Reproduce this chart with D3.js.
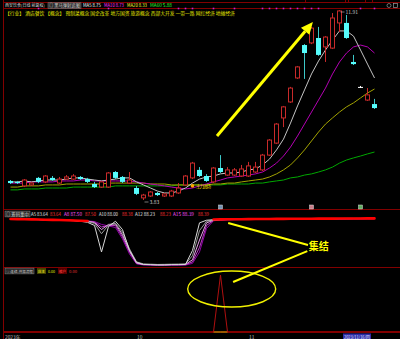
<!DOCTYPE html>
<html>
<head>
<meta charset="utf-8">
<script src="https://cdn.jsdelivr.net/npm/d3@7"></script>
<style>
  html, body { margin: 0; padding: 0; background: #000; }
  svg { display: block; font-family: "Noto Sans CJK SC", "Noto Sans", sans-serif; }
</style>
</head>
<body>
<div id="chart"></div>
<script>
// daily bars, 53 sessions
var opens  = [4.64,4.60,4.43,4.47,4.77,4.60,4.77,4.55,4.72,4.72,4.81,4.72,4.51,4.38,4.38,5.02,4.81,4.55,4.34,3.92,4.00,4.13,4.00,4.00,4.13,4.47,4.77,5.11,4.85,4.60,5.19,4.89,4.89,4.85,4.85,5.02,5.11,5.74,6.25,7.32,8.00,9.02,10.42,10.51,10.72,10.34,10.29,11.36,11.36,9.70,8.64,8.08,7.91];
var highs  = [4.68,4.64,4.72,4.60,4.81,4.89,4.85,4.81,4.89,4.93,4.85,4.77,4.60,4.64,5.02,5.06,4.85,5.02,4.43,4.09,4.21,4.17,4.13,4.26,4.55,4.89,5.45,5.23,4.93,5.23,5.74,5.23,5.19,5.32,5.45,5.45,5.79,6.42,7.10,7.83,8.64,9.53,10.46,11.19,11.19,10.80,11.78,11.91,11.70,10.00,8.68,8.59,8.13];
var lows   = [4.51,4.51,4.38,4.43,4.55,4.55,4.64,4.51,4.68,4.68,4.68,4.55,4.34,4.34,4.34,4.72,4.55,4.51,4.04,3.83,3.96,4.00,3.96,3.96,4.09,4.43,4.72,4.81,4.60,4.55,4.98,4.85,4.85,4.81,4.81,4.98,5.06,5.70,6.21,6.93,7.96,8.98,8.98,10.46,9.96,9.70,10.25,10.97,10.68,9.57,8.60,8.04,7.70];
var closes = [4.55,4.55,4.68,4.55,4.60,4.85,4.68,4.72,4.81,4.85,4.72,4.60,4.38,4.60,4.98,4.77,4.60,4.68,4.09,4.04,4.17,4.04,4.09,4.21,4.34,4.85,5.40,4.85,4.64,5.19,5.02,5.11,5.11,5.15,5.28,5.23,5.74,6.38,7.06,7.79,8.59,9.49,10.08,11.14,10.00,10.76,11.57,11.87,10.72,9.61,8.64,8.30,7.74];

var ma5  = [4.60,4.60,4.64,4.60,4.64,4.68,4.68,4.68,4.72,4.77,4.77,4.72,4.68,4.64,4.68,4.72,4.77,4.77,4.60,4.47,4.34,4.21,4.13,4.13,4.21,4.34,4.55,4.72,4.81,4.85,4.94,4.98,4.98,5.02,5.11,5.15,5.32,5.57,5.96,6.42,7.10,7.83,8.51,9.19,9.74,10.21,10.63,11.02,11.02,10.80,10.21,9.61,9.02];
var ma10 = [4.55,4.55,4.55,4.60,4.60,4.60,4.60,4.64,4.64,4.64,4.68,4.68,4.64,4.64,4.64,4.64,4.64,4.64,4.60,4.55,4.51,4.47,4.43,4.38,4.34,4.30,4.34,4.43,4.51,4.60,4.68,4.77,4.81,4.85,4.89,4.94,5.02,5.19,5.40,5.70,6.08,6.55,7.06,7.57,8.08,8.59,9.19,9.70,10.08,10.34,10.42,10.34,10.08];
var ma20 = [4.38,4.38,4.43,4.43,4.43,4.47,4.47,4.47,4.51,4.51,4.51,4.51,4.51,4.51,4.55,4.55,4.55,4.55,4.55,4.55,4.51,4.51,4.51,4.47,4.47,4.47,4.47,4.47,4.47,4.51,4.51,4.55,4.55,4.60,4.64,4.68,4.72,4.81,4.94,5.11,5.32,5.62,5.96,6.34,6.72,7.06,7.32,7.57,7.79,7.96,8.17,8.38,8.55];
var ma60 = [4.26,4.26,4.30,4.30,4.30,4.34,4.34,4.34,4.34,4.38,4.38,4.38,4.38,4.38,4.38,4.43,4.43,4.43,4.43,4.43,4.43,4.43,4.43,4.43,4.47,4.47,4.47,4.47,4.47,4.47,4.47,4.51,4.51,4.51,4.51,4.55,4.55,4.60,4.64,4.68,4.77,4.81,4.89,4.94,5.02,5.11,5.23,5.40,5.53,5.62,5.70,5.79,5.87];

// second panel (0-100)
var a5  = [90.5,90.3,90.0,89.7,89.4,89.0,88.7,88.3,87.8,87.2,86.0,84.0,78.0,27.0,76.0,86.0,70.0,30.0,7.0,3.0,2.5,2.0,2.0,2.5,2.5,3.0,30.0,83.0,88.0,89.0,89.6,89.9,90.1,90.2,90.2,90.4,90.5,90.5,90.7,90.8,90.8,91.0,91.1,91.2,91.2,91.3,91.4,91.4,91.5,91.5,91.6,91.6,91.7];
var a8  = [90.4,90.2,89.9,89.7,89.4,89.0,88.7,88.4,88.0,87.5,86.8,85.5,82.0,62.0,79.0,82.0,65.0,33.0,8.0,4.0,3.5,3.0,3.2,3.5,3.6,4.0,20.0,68.0,86.0,88.5,89.3,89.6,89.8,89.9,89.9,90.1,90.2,90.2,90.4,90.5,90.5,90.7,90.8,90.9,90.9,91.0,91.1,91.1,91.2,91.2,91.3,91.3,91.4];
var a10 = [90.3,90.1,89.9,89.6,89.3,89.0,88.7,88.4,88.0,87.6,87.0,86.0,83.5,70.0,80.0,81.0,60.0,30.0,6.0,3.0,2.8,2.5,2.6,2.8,3.0,3.2,12.0,50.0,83.0,88.0,89.0,89.4,89.6,89.7,89.8,89.9,90.0,90.1,90.2,90.3,90.4,90.5,90.6,90.7,90.8,90.8,90.9,91.0,91.0,91.1,91.1,91.2,91.2];
var a12 = [90.2,90.0,89.8,89.6,89.3,88.9,88.6,88.3,88.0,87.6,87.1,86.3,84.5,75.0,78.0,78.0,56.0,27.0,5.0,2.5,2.2,2.0,2.0,2.2,2.3,2.5,8.0,36.0,78.0,87.5,88.7,89.1,89.3,89.5,89.6,89.7,89.8,89.9,90.0,90.1,90.2,90.3,90.4,90.5,90.6,90.6,90.7,90.8,90.8,90.9,90.9,91.0,91.0];
var a15 = [90.1,89.9,89.7,89.5,89.2,88.9,88.6,88.3,88.0,87.6,87.2,86.6,85.5,80.0,77.0,74.0,52.0,23.0,4.0,2.0,1.8,1.5,1.5,1.6,1.7,1.8,5.0,27.0,72.0,87.0,88.4,88.8,89.1,89.3,89.4,89.5,89.6,89.7,89.8,89.9,90.0,90.1,90.2,90.3,90.4,90.4,90.5,90.6,90.6,90.7,90.7,90.8,90.8];
var redBand = [90.4,90.2,89.9,89.6,89.3,89.0,88.7,88.4,88.0,87.6,87.1,86.4,null,null,null,null,null,null,null,null,null,null,null,null,null,null,null,null,null,89.4,89.7,89.9,90.0,90.0,90.2,90.3,90.3,90.5,90.6,90.6,90.8,90.9,91.0,91.0,91.1,91.2,91.2,91.3,91.3,91.4,91.4,91.5,91.5];

// third panel
var zhuang = [0,0,0,0,0,0,0,0,0,0,0,0,0,0,0,0,0,0,0,0,0,0,0,0,0,0,0,0,0,0,0,0,0,0,0,0,0,0,0,0,0,0,0,0,0,0,0,0,0,0,0,0,0];
var sanhu  = [0,0,0,0,0,0,0,0,0,0,0,0,0,0,0,0,0,0,0,0,0,0,0,0,0,0,0,0,0,0,1,0,0,0,0,0,0,0,0,0,0,0,0,0,0,0,0,0,0,0,0,0,0];

var signalBars = [4,14,24,25,26,29,32,36,37,38,39,40,41,42,43,44,50,52];
var flagBars = [30,43,50];
var flagColors = ["#7391b3","#c97c88","#5fae5f"];
var tickBars = [0,18,34];
var tickLabels = ["2023年","10","11"];

var W = 400, H = 339;
var GRID = "#820000";
var UP = "#c82a2a", DOWN = "#56fcfc";

var svg = d3.select("#chart").append("svg").attr("width", W).attr("height", H);
svg.append("rect").attr("width", W).attr("height", H).attr("fill", "#000");

var x = d3.scaleLinear().domain([0, 52]).range([10.5, 374.5]);
var yK = d3.scaleLinear().domain([3.83, 11.91]).range([200, 10]);
var yI = d3.scaleLinear().domain([0, 100]).range([266, 214]);
var yS = d3.scaleLinear().domain([0, 1]).range([332, 275]);

// frame
function hline(y, w) {
  svg.append("line").attr("x1", 3).attr("x2", W).attr("y1", y).attr("y2", y)
    .attr("stroke", GRID).attr("stroke-width", w || 1);
}
hline(2.5); hline(8.5); hline(209.5); hline(267.5); hline(332, 2);
svg.append("line").attr("x1", 3.5).attr("x2", 3.5).attr("y1", 0).attr("y2", H).attr("stroke", GRID);
[[305, 40], [348, 17], [372, 28]].forEach(function(t) {
  svg.append("rect").attr("x", t[0] + 0.5).attr("y", -1).attr("width", t[1]).attr("height", 3.5)
    .attr("fill", "none").attr("stroke", GRID);
});
svg.append("circle").attr("cx", 389).attr("cy", 5.5).attr("r", 2).attr("fill", "none").attr("stroke", "#999").attr("stroke-width", 0.7);
svg.append("rect").attr("x", 393.5).attr("y", 3.5).attr("width", 4).attr("height", 4).attr("fill", "none").attr("stroke", "#999").attr("stroke-width", 0.7);

// header texts: each piece is shrunk until it fits its slot
function seg(list, y, size) {
  list.forEach(function(s) {
    var bg = s.box ? svg.append("rect") : null;
    var t = svg.append("text").attr("x", s.x).attr("y", y).attr("font-size", size)
      .attr("fill", s.c).text(s.t);
    var len = t.node().getComputedTextLength();
    var fs = size;
    if (len > s.w) { fs = size * s.w / len; t.attr("font-size", fs); }
    if (bg) {
      bg.attr("x", s.x - 1).attr("y", y - size + 0.3).attr("width", s.w + 2).attr("height", size + 1)
        .attr("fill", s.box).attr("stroke", s.edge || "none").attr("stroke-width", 0.5);
    }
  });
}
seg([
  {t: "西安饮食(日线 前复权)", x: 5, w: 40, c: "#d8d8d8"},
  {t: "◎ 黑马弹射追图", x: 49, w: 31, c: "#d0d0d0", box: "#2a2a2a", edge: "#888"},
  {t: "MA5  8.75", x: 83, w: 18, c: "#ffffff"},
  {t: "MA10  8.73", x: 104, w: 20, c: "#ff2cff"},
  {t: "MA20  8.33", x: 127, w: 20, c: "#ffff2c"},
  {t: "MA60  5.88", x: 150, w: 22, c: "#2cff2c"}
], 7.3, 4.8);
seg([
  {t: "【行业】 酒店餐饮 【概念】 预制菜概念 国企改革 地方国资 旅游概念 西部大开发 一带一路 网红经济 地摊经济", x: 5, w: 230, c: "#e8e800"}
], 15.4, 5.2);

seg([
  {t: "◎ 筹码集中", x: 6, w: 23, c: "#d0d0d0", box: "#2a2a2a", edge: "#888"},
  {t: "A5 83.64", x: 31, w: 17, c: "#e0e0e0"},
  {t: "83.64", x: 50, w: 11, c: "#ff3030"},
  {t: "A8 87.50", x: 64, w: 18, c: "#ff50ff"},
  {t: "87.50", x: 85, w: 11, c: "#ff3030"},
  {t: "A10 88.00", x: 99, w: 19, c: "#e0e0e0"},
  {t: "88.38", x: 122, w: 11, c: "#ff3030"},
  {t: "A12 88.23", x: 135, w: 20, c: "#e0e0e0"},
  {t: "88.23", x: 160, w: 11, c: "#ff3030"},
  {t: "A15 88.39", x: 173, w: 21, c: "#ff50ff"},
  {t: "88.39", x: 198, w: 11, c: "#ff3030"}
], 215.6, 4.8);

seg([
  {t: "◎ 连续-共振流程", x: 6, w: 27, c: "#d0d0d0", box: "#2a2a2a", edge: "#888"},
  {t: "庄主", x: 38, w: 7, c: "#ffff30", box: "#4a4a00"},
  {t: "0.00", x: 48, w: 7, c: "#e8e800"},
  {t: "散户", x: 59, w: 7, c: "#ff4040", box: "#5a0000"},
  {t: "0.00", x: 69, w: 8, c: "#e03030"}
], 272.6, 4.8);

// signal dots
svg.selectAll("rect.sig").data(signalBars).enter().append("rect")
  .attr("x", function(d) { return x(d) - 0.8; }).attr("y", 7.7)
  .attr("width", 1.6).attr("height", 1.6).attr("fill", "#d020d0");

// moving averages
var maLine = d3.line().x(function(d, i) { return x(i); }).y(function(d) { return yK(d); });
[[ma60, "#00a800"], [ma20, "#a3a300"], [ma10, "#b400b4"], [ma5, "#c4c4c4"]].forEach(function(m) {
  svg.append("path").datum(m[0]).attr("d", maLine).attr("fill", "none").attr("stroke", m[1]).attr("stroke-width", 1);
});

// candles
var bars = d3.range(opens.length).map(function(i) {
  return {i: i, o: opens[i], h: highs[i], l: lows[i], c: closes[i]};
});
function kcol(d) { return d.c > d.o ? UP : (d.c < d.o ? DOWN : "#ffffff"); }
var kg = svg.append("g");
bars.forEach(function(d) {
  var cx = x(d.i), top = yK(Math.max(d.o, d.c)), bot = yK(Math.min(d.o, d.c));
  if (d.c > d.o) {
    kg.append("line").attr("x1", cx).attr("x2", cx).attr("y1", yK(d.h)).attr("y2", top).attr("stroke", UP);
    kg.append("line").attr("x1", cx).attr("x2", cx).attr("y1", bot).attr("y2", yK(d.l)).attr("stroke", UP);
    kg.append("rect").attr("x", cx - 2).attr("y", top).attr("width", 4).attr("height", Math.max(bot - top, 1))
      .attr("fill", "#000").attr("stroke", UP);
  } else {
    kg.append("line").attr("x1", cx).attr("x2", cx).attr("y1", yK(d.h)).attr("y2", yK(d.l))
      .attr("stroke", d.c < d.o ? "#3cc8c8" : "#ffffff");
    kg.append("rect").attr("x", cx - 2.5).attr("y", top).attr("width", 5).attr("height", Math.max(bot - top, 1))
      .attr("fill", kcol(d));
  }
});

// high / low marks
var hiI = d3.maxIndex(highs), loI = d3.minIndex(lows);
[[hiI, highs[hiI], 2], [loI, lows[loI], 2]].forEach(function(m) {
  var px = x(m[0]) + 1, py = yK(m[1]) + m[2];
  svg.append("line").attr("x1", px).attr("x2", px + 4).attr("y1", py).attr("y2", py).attr("stroke", "#c8c8c8").attr("stroke-width", 0.6);
  svg.append("text").attr("x", px + 5).attr("y", py + 1.8).attr("font-size", 5).attr("fill", "#c8c8c8").text(m[1].toFixed(2));
});

// main force entry mark
svg.append("circle").attr("cx", x(26)).attr("cy", yK(4.43)).attr("r", 1.8).attr("fill", "#ffa000");
svg.append("text").attr("x", x(26) + 3.5).attr("y", yK(4.43) + 1.8).attr("font-size", 4.6)
  .attr("textLength", 15).attr("fill", "#e8d000").text("主力进场");

// flags at panel bottom
svg.selectAll("rect.flag").data(flagBars).enter().append("rect")
  .attr("x", function(d) { return x(d) - 2; }).attr("y", 205)
  .attr("width", 4).attr("height", 4)
  .attr("fill", function(d, i) { return flagColors[i]; })
  .attr("stroke", "#ddd").attr("stroke-width", 0.5);

// big arrow
var arrowFrom = [29.5, 6.55], arrowTo = [43.2, 11.40];
(function() {
  var x0 = x(arrowFrom[0]), y0 = yK(arrowFrom[1]), x1 = x(arrowTo[0]), y1 = yK(arrowTo[1]);
  var dx = x1 - x0, dy = y1 - y0, len = Math.sqrt(dx * dx + dy * dy), ux = dx / len, uy = dy / len;
  var bx = x1 - ux * 12, by = y1 - uy * 12;
  svg.append("line").attr("x1", x0).attr("y1", y0).attr("x2", bx).attr("y2", by)
    .attr("stroke", "#ffff00").attr("stroke-width", 3);
  svg.append("polygon").attr("points", [[x1, y1], [bx - uy * 5.5, by + ux * 5.5], [bx + uy * 5.5, by - ux * 5.5]].join(" "))
    .attr("fill", "#ffff00");
})();

// panel 2 lines
var iLine = d3.line().defined(function(d) { return d !== null; })
  .x(function(d, i) { return x(i); }).y(function(d) { return yI(d); });
[[a15, "#9000a8"], [a12, "#c040c8"], [a10, "#e8a0e8"], [a8, "#9a9a9a"], [a5, "#d8d8d8"]].forEach(function(s) {
  svg.append("path").datum(s[0]).attr("d", iLine).attr("fill", "none").attr("stroke", s[1]).attr("stroke-width", 1);
});
svg.append("path").datum(redBand).attr("d", iLine).attr("fill", "none")
  .attr("stroke", "#ff0000").attr("stroke-width", 2.6).attr("stroke-linecap", "round");

// panel 3 spike
function near(i) { return sanhu[i] > 0 || (i > 0 && sanhu[i - 1] > 0) || (i < sanhu.length - 1 && sanhu[i + 1] > 0); }
var sLine = d3.line().defined(function(d, i) { return near(i); })
  .x(function(d, i) { return x(i); }).y(function(d) { return yS(d); });
svg.append("path").datum(zhuang).attr("d", sLine).attr("fill", "none").attr("stroke", "#b0b000").attr("stroke-width", 1);
svg.append("path").datum(sanhu).attr("d", sLine).attr("fill", "none").attr("stroke", "#b01010").attr("stroke-width", 1);

// annotations
var ellipseAt = [31.6, 0.754];
svg.append("ellipse").attr("cx", x(ellipseAt[0])).attr("cy", yS(ellipseAt[1]))
  .attr("rx", 44).attr("ry", 18).attr("fill", "none").attr("stroke", "#f0f000").attr("stroke-width", 1.4);
var note1 = [[31.1, 82.7], [42.5, 40.4]];
svg.append("line").attr("x1", x(note1[0][0])).attr("y1", yI(note1[0][1]))
  .attr("x2", x(note1[1][0])).attr("y2", yI(note1[1][1])).attr("stroke", "#ffff00").attr("stroke-width", 2);
var note2 = [[31.8, 0.877], [42.4, 1.42]];
svg.append("line").attr("x1", x(note2[0][0])).attr("y1", yS(note2[0][1]))
  .attr("x2", x(note2[1][0])).attr("y2", yS(note2[1][1])).attr("stroke", "#ffff00").attr("stroke-width", 2);
svg.append("text").attr("x", x(42.6)).attr("y", yI(30.8)).attr("font-size", 10).attr("font-weight", "bold")
  .attr("fill", "#ffff00").text("集结");

// date axis
svg.selectAll("text.tick").data(tickBars).enter().append("text")
  .attr("x", function(d, i) { return i === 0 ? x(d) - 5.5 : x(d) + 0.5; })
  .attr("y", 338.6).attr("font-size", 4.8).attr("fill", "#c0c0c0")
  .text(function(d, i) { return tickLabels[i]; });
svg.append("rect").attr("x", 343).attr("y", 333.5).attr("width", 28).attr("height", 6).attr("fill", "#2c2ca8");
svg.append("text").attr("x", 344).attr("y", 338.6).attr("font-size", 4.8).attr("textLength", 26)
  .attr("lengthAdjust", "spacingAndGlyphs").attr("fill", "#e8e8ff").text("2023/11/16/四");
</script>
</body>
</html>
